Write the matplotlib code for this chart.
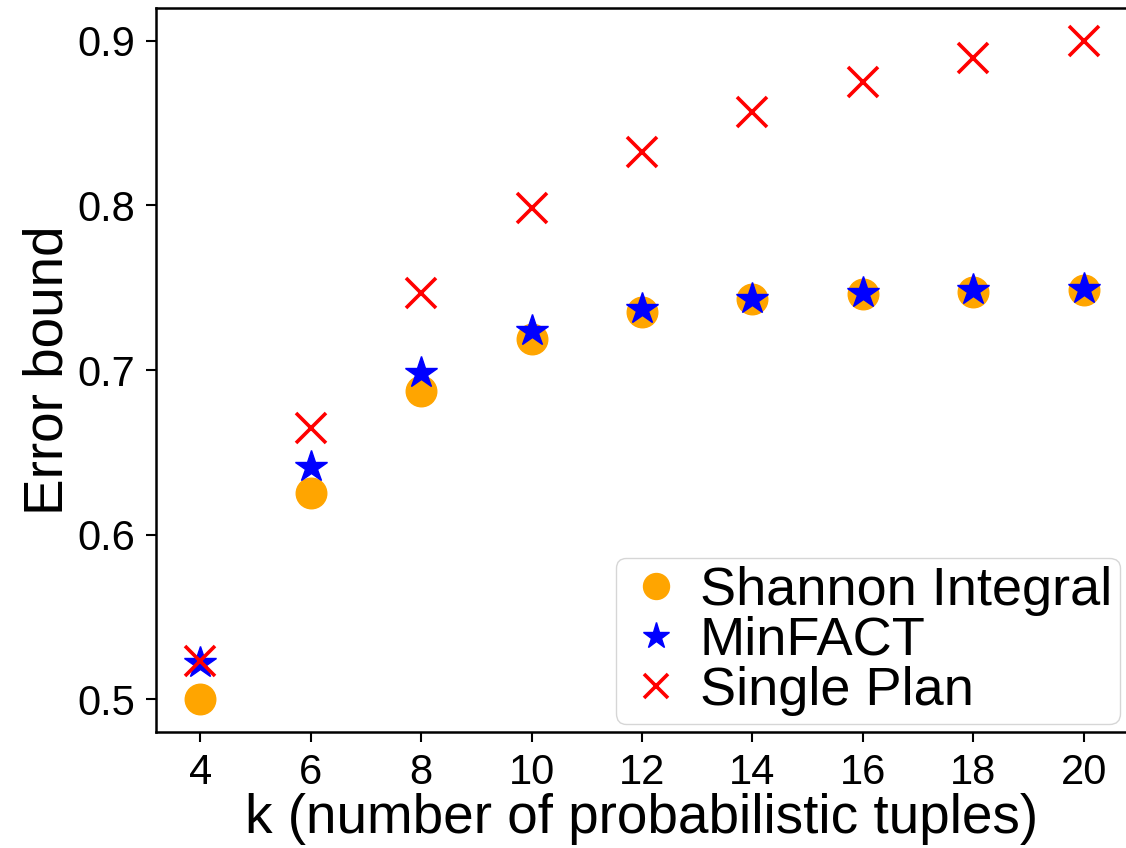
import matplotlib
matplotlib.use("Agg")
import matplotlib.pyplot as plt

plt.rcParams['font.family'] = ['Liberation Sans', 'DejaVu Sans']

k = [4, 6, 8, 10, 12, 14, 16, 18, 20]
shannon = [0.500, 0.625, 0.687, 0.719, 0.735, 0.743, 0.746, 0.7475, 0.7486]
minfact = [0.522, 0.641, 0.698, 0.724, 0.737, 0.743, 0.7468, 0.7486, 0.749]
single = [0.523, 0.665, 0.747, 0.7985, 0.8325, 0.857, 0.875, 0.8897, 0.900]

fig = plt.figure(figsize=(11.26, 8.48), dpi=100)
ax = fig.add_axes([156/1126, 1 - 732/848, (1128-156)/1126, (732-8)/848])

ax.plot(k, shannon, linestyle='none', marker='o', markersize=22, color='orange', label='Shannon Integral')
ax.plot(k, minfact, linestyle='none', marker='*', markersize=24, color='blue', label='MinFACT')
ax.plot(k, single, linestyle='none', marker='x', markersize=21, markeredgewidth=2.6, color='red', label='Single Plan')

ax.set_xlim(3.2, 20.8)
ax.set_ylim(0.48, 0.92)
ax.set_xticks(k)
ax.set_yticks([0.5, 0.6, 0.7, 0.8, 0.9])
ax.set_yticklabels(['0.5', '0.6', '0.7', '0.8', '0.9'])
ax.tick_params(labelsize=30, width=1.5, length=7, pad=8)
for s in ax.spines.values():
    s.set_linewidth(1.8)

ax.set_xlabel('k (number of probabilistic tuples)', fontsize=39.5, labelpad=0)
ax.set_ylabel('Error bound', fontsize=39.5, labelpad=2)

ax.legend(loc='lower right', fontsize=39, handletextpad=0.2, borderpad=0.15,
          labelspacing=0.0, handlelength=1.2, borderaxespad=0.15, markerscale=0.85)

fig.savefig('out.png', dpi=100)
